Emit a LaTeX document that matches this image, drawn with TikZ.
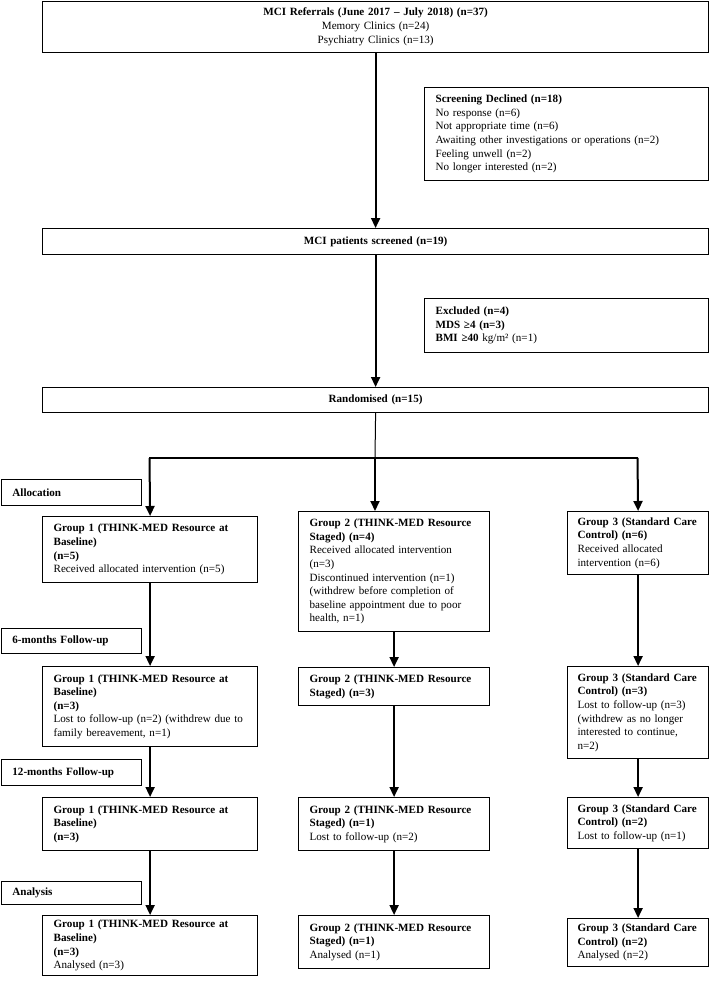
\documentclass[tikz,border=0pt]{standalone}
\usepackage{fontspec}
\setmainfont{Liberation Serif}
\usetikzlibrary{arrows.meta}
\newcommand\myfs{\fontsize{11.1}{13.6}\selectfont}
\tikzset{
  box/.style={draw, line width=1.2pt, inner xsep=0pt, inner ysep=0pt, anchor=north west, align=left, font=\myfs},
  cbox/.style={box, align=center},
  arr/.style={line width=2pt, -{Triangle[length=10pt,width=9pt]}},
  thinline/.style={line width=1pt},
  branch/.style={line width=1.6pt, line cap=rect},
}
\begin{document}
\begin{tikzpicture}[x=1pt,y=-1pt]
\useasboundingbox (0,0) rectangle (709,982);
% top section
\node[cbox, minimum width=666pt, minimum height=51pt, text width=644pt] (top) at (42,0.6)
  {\textbf{MCI Referrals (June 2017 – July 2018) (n=37)}\\Memory Clinics (n=24)\\Psychiatry Clinics (n=13)};
\node[box, minimum width=284pt, minimum height=93pt, text width=262pt] (decl) at (424,87)
  {\textbf{Screening Declined (n=18)}\\No response (n=6)\\Not appropriate time (n=6)\\Awaiting other investigations or operations (n=2)\\Feeling unwell (n=2)\\No longer interested (n=2)};
\node[cbox, minimum width=666pt, minimum height=26pt, text width=644pt] (scr) at (42,228)
  {\textbf{MCI patients screened (n=19)}};
\node[box, minimum width=284pt, minimum height=54pt, text width=262pt] (excl) at (424,298)
  {\textbf{Excluded (n=4)}\\\textbf{MDS ≥4 (n=3)}\\\textbf{BMI ≥40} kg/m² (n=1)};
\node[cbox, minimum width=666pt, minimum height=25pt, text width=644pt] (rand) at (42,387)
  {\textbf{Randomised (n=15)}};
% stage labels
\node[box, minimum width=140.4pt, minimum height=26pt, text width=118pt] (lalloc) at (0.6,479) {\textbf{Allocation}};
\node[box, minimum width=140.4pt, minimum height=25pt, text width=118pt] (l6m) at (0.6,628) {\textbf{6-months Follow-up}};
\node[box, minimum width=140.4pt, minimum height=26pt, text width=118pt] (l12m) at (0.6,759) {\textbf{12-months Follow-up}};
\node[box, minimum width=140.4pt, minimum height=23pt, text width=118pt] (lan) at (0.6,881) {\textbf{Analysis}};
% group 1
\node[box, minimum width=215pt, minimum height=66pt, text width=193pt] (g1a) at (42,516)
  {\textbf{Group 1 (THINK-MED Resource at}\\\textbf{Baseline)}\\\textbf{(n=5)}\\Received allocated intervention (n=5)};
\node[box, minimum width=215pt, minimum height=80pt, text width=193pt] (g1b) at (42,666)
  {\textbf{Group 1 (THINK-MED Resource at}\\\textbf{Baseline)}\\\textbf{(n=3)}\\Lost to follow-up (n=2) (withdrew due to\\family bereavement, n=1)};
\node[box, minimum width=215pt, minimum height=53pt, text width=193pt] (g1c) at (42,797)
  {\textbf{Group 1 (THINK-MED Resource at}\\\textbf{Baseline)}\\\textbf{(n=3)}};
\node[box, minimum width=215pt, minimum height=60pt, text width=193pt] (g1d) at (42,915)
  {\textbf{Group 1 (THINK-MED Resource at}\\\textbf{Baseline)}\\\textbf{(n=3)}\\Analysed (n=3)};
% group 2
\node[box, minimum width=191pt, minimum height=120pt, text width=169pt] (g2a) at (298,511)
  {\textbf{Group 2 (THINK-MED Resource}\\\textbf{Staged) (n=4)}\\Received allocated intervention\\(n=3)\\Discontinued intervention (n=1)\\(withdrew before completion of\\baseline appointment due to poor\\health, n=1)};
\node[box, minimum width=191pt, minimum height=38pt, text width=169pt] (g2b) at (298,667)
  {\textbf{Group 2 (THINK-MED Resource}\\\textbf{Staged) (n=3)}};
\node[box, minimum width=191pt, minimum height=53pt, text width=169pt] (g2c) at (298,797)
  {\textbf{Group 2 (THINK-MED Resource}\\\textbf{Staged) (n=1)}\\Lost to follow-up (n=2)};
\node[box, minimum width=191pt, minimum height=53pt, text width=169pt] (g2d) at (298,915)
  {\textbf{Group 2 (THINK-MED Resource}\\\textbf{Staged) (n=1)}\\Analysed (n=1)};
% group 3
\node[box, minimum width=141pt, minimum height=63pt, text width=121pt] (g3a) at (567,511)
  {\textbf{Group 3 (Standard Care}\\\textbf{Control) (n=6)}\\Received allocated\\intervention (n=6)};
\node[box, minimum width=141pt, minimum height=92pt, text width=121pt] (g3b) at (567,666)
  {\textbf{Group 3 (Standard Care}\\\textbf{Control) (n=3)}\\Lost to follow-up (n=3)\\(withdrew as no longer\\interested to continue,\\n=2)};
\node[box, minimum width=141pt, minimum height=51pt, text width=121pt] (g3c) at (567,797)
  {\textbf{Group 3 (Standard Care}\\\textbf{Control) (n=2)}\\Lost to follow-up (n=1)};
\node[box, minimum width=141pt, minimum height=48pt, text width=121pt] (g3d) at (567,918)
  {\textbf{Group 3 (Standard Care}\\\textbf{Control) (n=2)}\\Analysed (n=2)};
% connectors
\coordinate (jn) at (375,458);
\coordinate (jl) at (149.5,458);
\coordinate (jr) at (637.5,458);
\draw[arr] (top.south) -- (scr.north);
\draw[arr] (scr.south) -- (rand.north);
\draw[thinline] (rand.south) -- (jn);
\draw[branch] (jl) -- (jr);
\draw[arr] (jl) -- (g1a.north);
\draw[arr] (jn) -- (g2a.north -| jn);
\draw[arr] (jr) -- (g3a.north);
\draw[arr] (g1a.south) -- (g1b.north);
\draw[arr] (g1b.south) -- (g1c.north);
\draw[arr] (g1c.south) -- (g1d.north);
\draw[arr] (g2a.south) -- (g2b.north);
\draw[arr] (g2b.south) -- (g2c.north);
\draw[arr] (g2c.south) -- (g2d.north);
\draw[arr] (g3a.south) -- (g3b.north);
\draw[arr] (g3b.south) -- (g3c.north);
\draw[arr] (g3c.south) -- (g3d.north);
\end{tikzpicture}
\end{document}
